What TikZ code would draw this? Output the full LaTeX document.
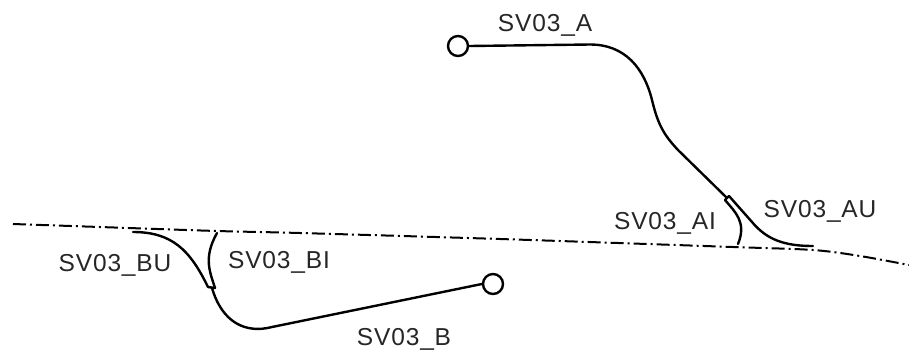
\documentclass[tikz,border=0pt]{standalone}
\usepackage{fontspec}
\setmainfont[LetterSpace=3.5]{Liberation Sans}
\tikzset{
  lbl/.style={inner sep=0pt,text=black!85,font=\fontsize{24.5}{27}\selectfont},
  pipe/.style={draw=black,line width=2.4pt,line cap=round,line join=round},
  endc/.style={circle,draw=black,line width=2.4pt,minimum size=20pt,inner sep=0pt},
  axis/.style={draw=black,line width=2pt,dash pattern=on 13pt off 4pt on 2pt off 4pt}
}
\begin{document}
\begin{tikzpicture}[x=1pt,y=-1pt]
\useasboundingbox (0,0) rectangle (909,349);
\draw[axis] plot[smooth,tension=0.5] coordinates {(13,224) (100,227) (217,231) (300,233) (500,239) (733,247) (813,250) (860,256) (909,265)};
\node[endc] (ca) at (458,46) {};
\node[endc] (cb) at (493,284) {};
\coordinate (ja) at (727,198);
\coordinate (jau) at (729,196);
\coordinate (jai) at (725,200);
\coordinate (au) at (813,246);
\coordinate (ai) at (738,244);
\coordinate (jb) at (212,288);
\coordinate (jbu) at (208,287);
\coordinate (jbi) at (215,288);
\coordinate (bu) at (133,232);
\coordinate (bi) at (217,233);
\draw[pipe] (ca.east) -- (590,44.5) .. controls (625,44.5) and (644,68) .. (652,100) .. controls (658,125) and (664,135) .. (678,150) -- (ja);
\draw[pipe] (jau) -- (jai);
\draw[pipe] (jau) -- (752,222) .. controls (767,240) and (785,246) .. (au);
\draw[pipe] (jai) .. controls (735,212) and (747,222) .. (ai);
\draw[pipe] (cb.west) -- (272,327) .. controls (245,334) and (222,322) .. (jb);
\draw[pipe] (jbu) -- (jbi);
\draw[pipe] (jbu) .. controls (190,250) and (172,232) .. (bu);
\draw[pipe] (jbi) .. controls (210,272) and (203,258) .. (bi);
\node[lbl] (ta) at (545,25.5) {SV03\_A};
\node[lbl] (tb) at (404,339.5) {SV03\_B};
\node[lbl] (tai) at (665,223.5) {SV03\_AI};
\node[lbl] (tau) at (820,211.5) {SV03\_AU};
\node[lbl] (tbu) at (115,265.5) {SV03\_BU};
\node[lbl] (tbi) at (279,262.5) {SV03\_BI};
\end{tikzpicture}
\end{document}
